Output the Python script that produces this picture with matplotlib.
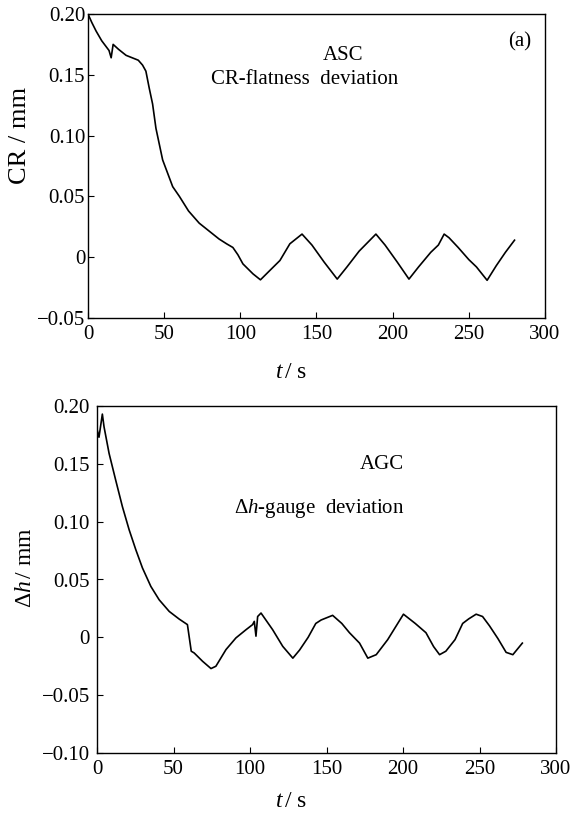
import numpy as np
import matplotlib.pyplot as plt

plt.rcParams['font.family'] = ['Liberation Serif', 'DejaVu Serif']
plt.rcParams['mathtext.fontset'] = 'custom'
plt.rcParams['mathtext.rm'] = 'Liberation Serif'
plt.rcParams['mathtext.it'] = 'Liberation Serif:italic'

#%% data

# (a) ASC, CR-flatness deviation
t_cr = [0, 2.5, 5.3, 9, 13.8, 15.2, 16.5, 20, 25, 29, 33, 35.8, 38, 40.2, 42.4,
        44.6, 49, 55.6, 60, 66, 73, 80, 86, 91, 95.1, 98.4, 101.7, 108.3, 113.2,
        119.3, 126, 132.5, 140.5, 147, 155, 163.6, 170, 178, 189, 195, 203, 210.7,
        217, 225, 230, 233.8, 237, 243, 250, 255, 262, 268, 274, 280]
cr = [0.200, 0.193, 0.186, 0.178, 0.170, 0.164, 0.175, 0.171, 0.166, 0.164, 0.162,
      0.158, 0.153, 0.139, 0.126, 0.106, 0.080, 0.058, 0.050, 0.038, 0.028, 0.021,
      0.015, 0.011, 0.008, 0.002, -0.0055, -0.0137, -0.0186, -0.011, -0.0027,
      0.011, 0.019, 0.010, -0.004, -0.018, -0.008, 0.005, 0.019, 0.010, -0.004,
      -0.018, -0.008, 0.004, 0.010, 0.019, 0.016, 0.008, -0.002, -0.008, -0.019,
      -0.007, 0.004, 0.014]

# AGC, gauge deviation
t_dh = [0, 1.3, 3.5, 4.6, 7.9, 12.2, 16.6, 21, 25.3, 29.7, 35.2, 40.6, 47.2, 53.7,
        59.1, 61.6, 63.5, 69, 74.5, 77.7, 84.3, 90.8, 97.4, 101.7, 102.8, 103.9,
        105, 107.2, 114.8, 121.4, 128, 132.4, 138, 143, 146.5, 154, 160, 165,
        171.6, 177, 182.5, 190, 200.3, 208, 215, 220, 223.9, 228, 234, 239, 243,
        247.8, 252, 256.5, 262, 267.4, 271.8, 278]
dh = [0.180, 0.173, 0.193, 0.182, 0.159, 0.136, 0.113, 0.093, 0.076, 0.060, 0.044,
      0.0325, 0.0224, 0.0158, 0.011, -0.012, -0.0135, -0.0207, -0.027, -0.025,
      -0.0106, -0.0005, 0.0066, 0.011, 0.0138, 0.001, 0.018, 0.021, 0.0066,
      -0.0078, -0.018, -0.011, 0.000, 0.012, 0.015, 0.019, 0.012, 0.004, -0.005,
      -0.018, -0.015, -0.002, 0.020, 0.012, 0.004, -0.008, -0.015, -0.012, -0.002,
      0.012, 0.016, 0.020, 0.018, 0.010, -0.001, -0.013, -0.015, -0.005]

x_ticks = [0, 50, 100, 150, 200, 250, 300]
x_labels = ['0', '50', '100', '150', '200', '250', '300']
cr_ticks = [-0.05, 0, 0.05, 0.10, 0.15, 0.20]
cr_labels = ['\u22120.05', '0', '0.05', '0.10', '0.15', '0.20']
dh_ticks = [-0.10, -0.05, 0, 0.05, 0.10, 0.15, 0.20]
dh_labels = ['\u22120.10', '\u22120.05', '0', '0.05', '0.10', '0.15', '0.20']

#%%

fig = plt.figure(figsize=(5.84, 8.13), dpi=100)
ax1 = fig.add_axes([88/584, 1 - 318/813, (545 - 88)/584, (318 - 14)/813])
ax2 = fig.add_axes([97/584, 1 - 753/813, (556 - 97)/584, (753 - 406)/813])

fs = 15

def style(ax, yt, yl, ypad):
    ax.set_xlim(0, 300)
    ax.set_xticks(x_ticks)
    ax.set_xticklabels(x_labels, fontsize=fs)
    ax.set_yticks(yt)
    ax.set_yticklabels(yl, fontsize=fs)
    ax.set_ylim(yt[0], yt[-1])
    ax.tick_params(direction='in', length=4, width=0.8, top=False, right=False)
    ax.tick_params(axis='x', pad=5)
    ax.tick_params(axis='y', pad=ypad)
    for s in ax.spines.values():
        s.set_linewidth(1.0)

ax1.plot(t_cr, cr, color='black', linewidth=1.2)
style(ax1, cr_ticks, cr_labels, 2)
ax1.text(0.444, -0.18, r'$t\,$/ s', fontsize=17, ha='center', va='center',
         transform=ax1.transAxes)
ax1.text(-0.148, 0.60, 'CR / mm', fontsize=19, ha='center', va='center',
         rotation=90, transform=ax1.transAxes)
ax1.text(0.558, 0.865, 'ASC', fontsize=fs, ha='center', va='center', transform=ax1.transAxes)
ax1.text(0.475, 0.783, 'CR-flatness  deviation', fontsize=fs, ha='center', va='center',
         transform=ax1.transAxes)
ax1.text(0.945, 0.91, '(a)', fontsize=fs, ha='center', va='center', transform=ax1.transAxes)

ax2.plot(t_dh, dh, color='black', linewidth=1.2)
style(ax2, dh_ticks, dh_labels, 5)
ax2.text(0.423, -0.14, r'$t\,$/ s', fontsize=17, ha='center', va='center',
         transform=ax2.transAxes)
ax2.text(-0.155, 0.533, r'$\Delta h\,$/ mm', fontsize=17, ha='center', va='center',
         rotation=90, transform=ax2.transAxes)
ax2.text(0.62, 0.83, 'AGC', fontsize=fs, ha='center', va='center', transform=ax2.transAxes)
ax2.text(0.484, 0.706, r'$\Delta h$-gauge  deviation', fontsize=fs, ha='center', va='center',
         transform=ax2.transAxes)

fig.savefig('out.png', dpi=100)
